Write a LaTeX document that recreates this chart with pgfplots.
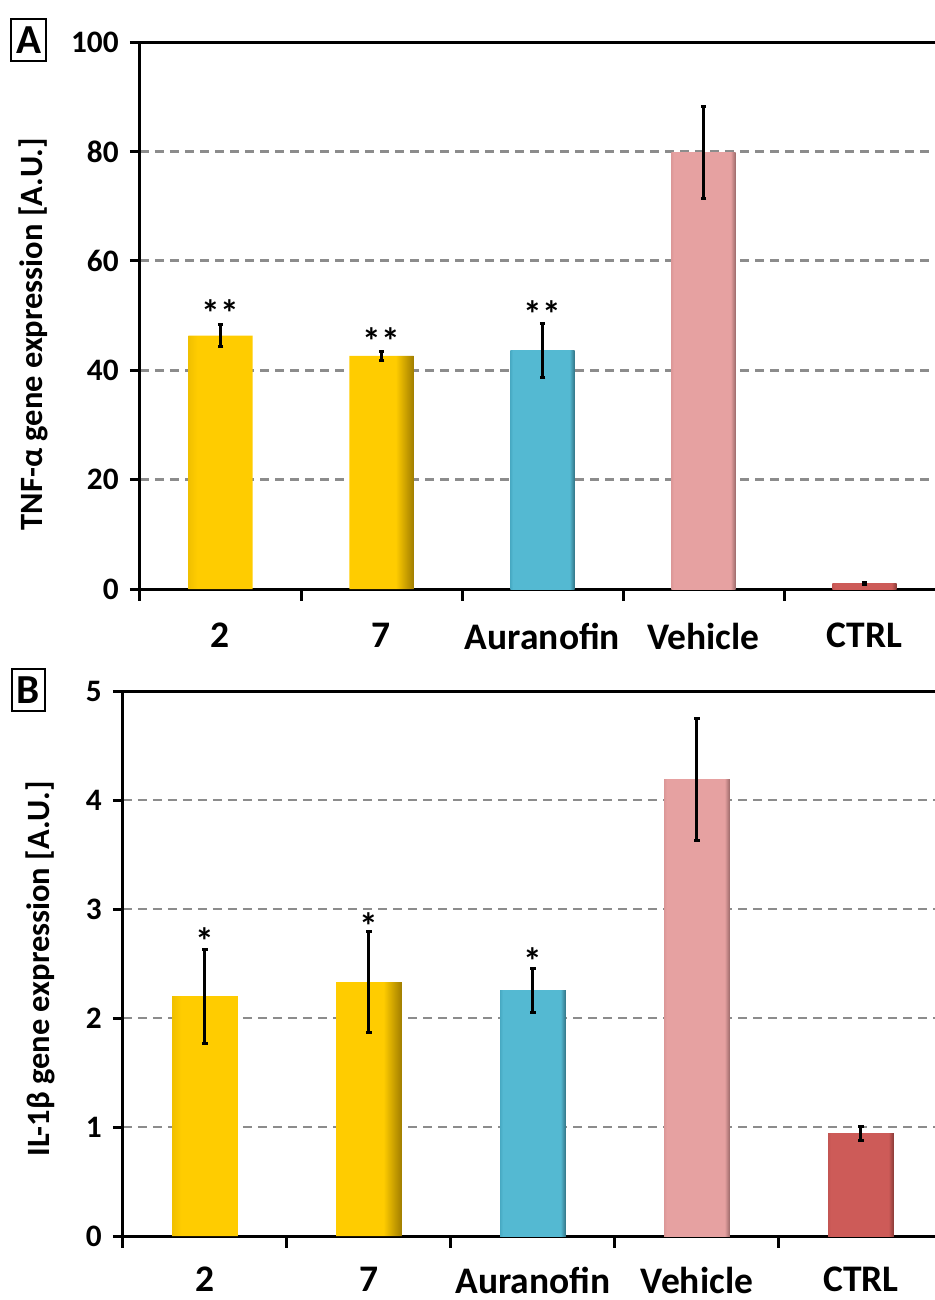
\documentclass[border=0pt]{standalone}
\usepackage{pgfplots}
\pgfplotsset{compat=1.18}
\usepackage{fontspec}
\setmainfont{Carlito}

\definecolor{yL}{RGB}{240,192,0}
\definecolor{yM}{RGB}{255,204,0}
\definecolor{yD}{RGB}{160,125,0}
\definecolor{bL}{RGB}{72,170,195}
\definecolor{bM}{RGB}{84,185,210}
\definecolor{bD}{RGB}{50,115,132}
\definecolor{pL}{RGB}{220,152,152}
\definecolor{pM}{RGB}{230,161,161}
\definecolor{pD}{RGB}{155,105,105}
\definecolor{rL}{RGB}{195,85,82}
\definecolor{rM}{RGB}{205,91,88}
\definecolor{rD}{RGB}{135,58,55}
\definecolor{gridgray}{RGB}{140,140,140}

\pgfdeclarehorizontalshading{barY}{100bp}{color(0bp)=(yL); color(25bp)=(yL); color(27bp)=(yM); color(71bp)=(yM); color(75bp)=(yD); color(100bp)=(yD)}
\pgfdeclarehorizontalshading{barB}{100bp}{color(0bp)=(bL); color(25bp)=(bL); color(27bp)=(bM); color(71bp)=(bM); color(75bp)=(bD); color(100bp)=(bD)}
\pgfdeclarehorizontalshading{barP}{100bp}{color(0bp)=(pL); color(25bp)=(pL); color(27bp)=(pM); color(71bp)=(pM); color(75bp)=(pD); color(100bp)=(pD)}
\pgfdeclarehorizontalshading{barR}{100bp}{color(0bp)=(rL); color(25bp)=(rL); color(27bp)=(rM); color(71bp)=(rM); color(75bp)=(rD); color(100bp)=(rD)}

\pgfplotsset{
  panel/.style={
    scale only axis,
    xmin=-0.5, xmax=4.5,
    ymin=0,
    axis x line*=bottom,
    axis y line*=left,
    axis line style={line width=1.2pt, black},
    xtick={0,1,2,3,4},
    xticklabels={2,7,Auranofin,Vehicle,CTRL},
    major x tick style={draw=none},
    minor xtick={-0.5,0.5,1.5,2.5,3.5},
    minor x tick style={line width=1.2pt, black},
    minor tick length=4.6pt,
    xtick align=outside,
    ytick align=outside,
    major tick length=4pt,
    ytick style={line width=1.2pt, black},
    ymajorgrids,
    grid style={gridgray, line width=1.1pt, dash pattern=on 3.6pt off 2.4pt},
    /pgf/number format/assume math mode=true,
    yticklabel style={font=\bfseries\fontsize{12.5}{13}\selectfont, xshift=-1pt},
    xticklabel style={font=\bfseries\fontsize{15}{16}\selectfont, yshift=-6pt},
    ylabel style={font=\bfseries\fontsize{13}{14}\selectfont, rotate=0},
    error bars/error bar style={line width=1.2pt, black},
    error bars/error mark options={rotate=90, mark size=1.1pt, line width=1.2pt, black},
    clip=false,
  },
  bars/.style={ybar, bar width=0.4, bar shift=0pt, draw=none,
    error bars/y dir=both, error bars/y explicit},
  stars/.style={draw=none, mark=none, nodes near coords, point meta=explicit symbolic,
    nodes near coords style={anchor=center, font=\bfseries\fontsize{15}{15}\selectfont}},
}

\begin{document}
\begin{tikzpicture}
\useasboundingbox (0,0) rectangle (374pt,-520pt);

% Panel A
\begin{axis}[panel,
  at={(56pt,-16.8pt)}, anchor=north west,
  width=322pt, height=218.8pt,
  ymax=100, ytick={0,20,40,60,80,100},
  ylabel={TNF-α gene expression [A.U.]},
  ylabel style={at={(axis description cs:-0.133,0.466)}, anchor=center},
]
\addplot[bars, shading=barY] coordinates {(0,46.3) +- (0,2.0) (1,42.6) +- (0,0.9)};
\addplot[bars, shading=barB] coordinates {(2,43.6) +- (0,5.0)};
\addplot[bars, shading=barP] coordinates {(3,79.8) +- (0,8.5)};
\addplot[bars, shading=barR] coordinates {(4,1.0) +- (0,0.2)};
\addplot[stars] table[meta=lab] {
x y lab
0 50.4 **
1 45.3 **
2 50.2 **
};
\draw[line width=1.2pt] (rel axis cs:0,1) -- (rel axis cs:1,1);
\end{axis}
\node[draw=black, line width=0.6pt, inner xsep=2pt, inner ysep=3pt, font=\bfseries\fontsize{16.5}{17}\selectfont] at (11.4pt,-16pt) {A};

% Panel B
\begin{axis}[panel,
  at={(49.2pt,-276.4pt)}, anchor=north west,
  width=328pt, height=218pt,
  ymax=5, ytick={0,1,2,3,4,5},
  ylabel={IL-1β gene expression [A.U.]},
  ylabel style={at={(axis description cs:-0.101,0.49)}, anchor=center},
  xticklabel style={yshift=1pt},
]
\addplot[bars, shading=barY] coordinates {(0,2.20) +- (0,0.43) (1,2.33) +- (0,0.46)};
\addplot[bars, shading=barB] coordinates {(2,2.25) +- (0,0.20)};
\addplot[bars, shading=barP] coordinates {(3,4.19) +- (0,0.56)};
\addplot[bars, shading=barR] coordinates {(4,0.94) +- (0,0.065)};
\addplot[stars] table[meta=lab] {
x y lab
0 2.71 *
1 2.84 *
2 2.52 *
};
\draw[line width=1.2pt] (rel axis cs:0,1) -- (rel axis cs:1,1);
\end{axis}
\node[draw=black, line width=0.6pt, inner xsep=2pt, inner ysep=3pt, font=\bfseries\fontsize{16.5}{17}\selectfont] at (11.4pt,-276pt) {B};
\end{tikzpicture}
\end{document}
